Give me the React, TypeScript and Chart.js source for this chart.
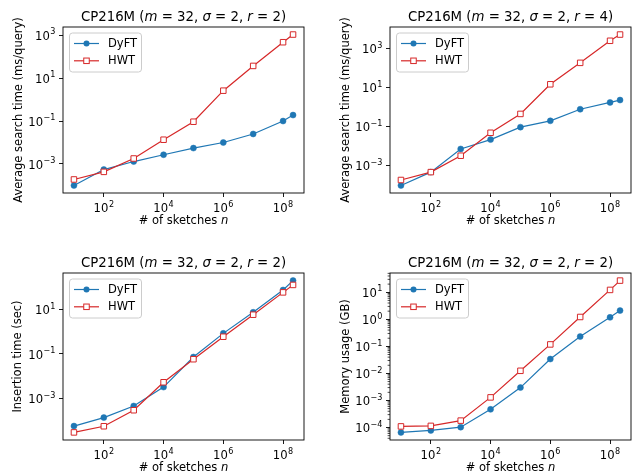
import React, { useEffect, useRef } from "react";
import { Chart, registerables } from "chart.js";

Chart.register(...registerables);

// ---------- data ----------
const sketchCounts = [10, 100, 1e3, 1e4, 1e5, 1e6, 1e7, 1e8, 2.16e8];
const xTickValues = [1e2, 1e4, 1e6, 1e8];

const searchR2DyFT = [1.0e-4, 5.5e-4, 1.3e-3, 2.7e-3, 5.5e-3, 1.0e-2, 2.5e-2, 0.1, 0.19];
const searchR2HWT = [1.9e-4, 4.3e-4, 1.8e-3, 1.35e-2, 9.3e-2, 2.6, 37, 470, 1070];
const searchR4DyFT = [1.0e-4, 4.8e-4, 7.3e-3, 2.2e-2, 9.5e-2, 0.2, 0.78, 1.74, 2.3];
const searchR4HWT = [1.9e-4, 4.8e-4, 3.3e-3, 4.9e-2, 0.45, 14.7, 183, 2450, 5100];
const insertDyFT = [5.6e-5, 1.35e-4, 4.5e-4, 3.2e-3, 0.073, 0.85, 7.6, 77, 204];
const insertHWT = [2.9e-5, 5.5e-5, 2.9e-4, 5.3e-3, 0.058, 0.6, 5.9, 60, 130];
const memoryDyFT = [6.6e-5, 7.8e-5, 1.03e-4, 4.7e-4, 3.0e-3, 0.034, 0.23, 1.18, 2.1];
const memoryHWT = [1.1e-4, 1.15e-4, 1.8e-4, 1.3e-3, 1.25e-2, 0.118, 1.22, 12.2, 27];

const searchTicks = [1e-3, 1e-1, 1e1, 1e3];
const insertTicks = [1e-3, 1e-1, 1e1];
const memoryTicks = [1e-4, 1e-3, 1e-2, 1e-1, 1, 10];

const seriesLabels = ["DyFT", "HWT"];

// ---------- style ----------
const FONT = '"DejaVu Sans", "Liberation Sans", sans-serif';
const BLUE = "#1f77b4";
const RED = "#d62728";
const TICK_SIZE = 11.6;
const SUP_SIZE = 8.1;
const SUP_RAISE = 5.4;
const LABEL_SIZE = 11.5;
const TITLE_SIZE = 13.3;

type Seg = { t: string; i?: boolean };

const titleFor = (r: string): Seg[] => [
  { t: "CP216M (" },
  { t: "m", i: true },
  { t: " = 32, " },
  { t: "σ", i: true },
  { t: " = 2, " },
  { t: "r", i: true },
  { t: " = " + r + ")" },
];

const xLabel: Seg[] = [{ t: "# of sketches " }, { t: "n", i: true }];

interface PanelSpec {
  title: Seg[];
  yLabel: string;
  dyft: number[];
  hwt: number[];
  yTicks: number[];
  minor: boolean;
  box: { x: number; y: number; w: number; h: number };
  area: { l: number; r: number; t: number; b: number };
  yLabelX: number;
}

const panels: PanelSpec[] = [
  {
    title: titleFor("2"),
    yLabel: "Average search time (ms/query)",
    dyft: searchR2DyFT,
    hwt: searchR2HWT,
    yTicks: searchTicks,
    minor: false,
    box: { x: 0, y: 0, w: 319, h: 237 },
    area: { l: 63, r: 304, t: 27, b: 193 },
    yLabelX: 19,
  },
  {
    title: titleFor("4"),
    yLabel: "Average search time (ms/query)",
    dyft: searchR4DyFT,
    hwt: searchR4HWT,
    yTicks: searchTicks,
    minor: false,
    box: { x: 319, y: 0, w: 320, h: 237 },
    area: { l: 71, r: 312, t: 27, b: 193 },
    yLabelX: 27.5,
  },
  {
    title: titleFor("2"),
    yLabel: "Insertion time (sec)",
    dyft: insertDyFT,
    hwt: insertHWT,
    yTicks: insertTicks,
    minor: false,
    box: { x: 0, y: 237, w: 319, h: 238 },
    area: { l: 63, r: 304, t: 36, b: 203 },
    yLabelX: 18.5,
  },
  {
    title: titleFor("2"),
    yLabel: "Memory usage (GB)",
    dyft: memoryDyFT,
    hwt: memoryHWT,
    yTicks: memoryTicks,
    minor: true,
    box: { x: 319, y: 237, w: 320, h: 238 },
    area: { l: 71, r: 312, t: 36, b: 203 },
    yLabelX: 26.7,
  },
];

// ---------- helpers ----------
function expText(v: number): string {
  const e = Math.round(Math.log10(v));
  return String(e).replace("-", "\u2212");
}

function logRange(values: number[]): [number, number] {
  const logs = values.map((v) => Math.log10(v));
  const mn = Math.min(...logs);
  const mx = Math.max(...logs);
  const pad = (mx - mn) * 0.05;
  return [Math.pow(10, mn - pad), Math.pow(10, mx + pad)];
}

function drawRich(ctx: CanvasRenderingContext2D, segs: Seg[], x: number, y: number, size: number) {
  ctx.save();
  const fontFor = (s: Seg) => `${s.i ? "italic " : ""}${size}px ${FONT}`;
  let total = 0;
  const widths = segs.map((s) => {
    ctx.font = fontFor(s);
    const w = ctx.measureText(s.t).width;
    total += w;
    return w;
  });
  let cx = x - total / 2;
  ctx.textBaseline = "alphabetic";
  ctx.textAlign = "left";
  ctx.fillStyle = "#000";
  segs.forEach((s, k) => {
    ctx.font = fontFor(s);
    ctx.fillText(s.t, cx, y);
    cx += widths[k];
  });
  ctx.restore();
}

// draws "10^e"; anchor: 'center' (x is center) or 'right' (x is right edge); y is baseline
function drawPow(ctx: CanvasRenderingContext2D, v: number, x: number, y: number, anchor: "center" | "right") {
  const base = "10";
  const ex = expText(v);
  ctx.save();
  ctx.fillStyle = "#000";
  ctx.textBaseline = "alphabetic";
  ctx.textAlign = "left";
  ctx.font = `${TICK_SIZE}px ${FONT}`;
  const wb = ctx.measureText(base).width;
  ctx.font = `${SUP_SIZE}px ${FONT}`;
  const we = ctx.measureText(ex).width;
  const total = wb + we + 0.5;
  const start = anchor === "center" ? x - total / 2 : x - total;
  ctx.font = `${TICK_SIZE}px ${FONT}`;
  ctx.fillText(base, start, y);
  ctx.font = `${SUP_SIZE}px ${FONT}`;
  ctx.fillText(ex, start + wb + 0.5, y - SUP_RAISE);
  ctx.restore();
}

function Panel({ spec }: { spec: PanelSpec }) {
  const ref = useRef<HTMLCanvasElement>(null);

  useEffect(() => {
    const canvas = ref.current;
    if (!canvas) return;
    const { area, box } = spec;
    const [xMin, xMax] = logRange(sketchCounts);
    const [yMin, yMax] = logRange([...spec.dyft, ...spec.hwt]);

    const minorTicks: number[] = [];
    if (spec.minor) {
      for (let k = -6; k <= 3; k++) {
        for (let m = 2; m <= 9; m++) {
          const v = m * Math.pow(10, k);
          if (v > yMin && v < yMax) minorTicks.push(v);
        }
      }
    }

    const decor = {
      id: "decor",
      afterDatasetsDraw(chart: any) {
        const ctx: CanvasRenderingContext2D = chart.ctx;
        const ca = chart.chartArea;
        const xs = chart.scales.x;
        const ys = chart.scales.y;
        // frame (spines)
        ctx.save();
        ctx.strokeStyle = "#000";
        ctx.lineWidth = 0.9;
        ctx.strokeRect(ca.left, ca.top, ca.right - ca.left, ca.bottom - ca.top);
        // minor ticks
        if (minorTicks.length) {
          ctx.beginPath();
          minorTicks.forEach((v) => {
            const py = ys.getPixelForValue(v);
            ctx.moveTo(ca.left - 2.4, py);
            ctx.lineTo(ca.left, py);
          });
          ctx.lineWidth = 0.7;
          ctx.stroke();
        }
        ctx.restore();

        // tick labels
        xTickValues.forEach((v) => {
          drawPow(ctx, v, xs.getPixelForValue(v), ca.bottom + 19, "center");
        });
        spec.yTicks.forEach((v) => {
          drawPow(ctx, v, ca.left - 7.5, ys.getPixelForValue(v) + 4.6, "right");
        });

        // title
        drawRich(ctx, spec.title, (ca.left + ca.right) / 2, ca.top - 6, TITLE_SIZE);
        // x label
        drawRich(ctx, xLabel, (ca.left + ca.right) / 2, ca.bottom + 31, LABEL_SIZE);
        // y label
        ctx.save();
        ctx.translate(spec.yLabelX, (ca.top + ca.bottom) / 2);
        ctx.rotate(-Math.PI / 2);
        ctx.font = `${LABEL_SIZE}px ${FONT}`;
        ctx.fillStyle = "#000";
        ctx.textAlign = "center";
        ctx.textBaseline = "middle";
        ctx.fillText(spec.yLabel, 0, 0);
        ctx.restore();

        // legend
        const lx = ca.left + 6;
        const ly = ca.top + 5.5;
        const lw = 72;
        const lh = 39;
        ctx.save();
        ctx.beginPath();
        (ctx as any).roundRect(lx + 0.5, ly + 0.5, lw, lh, 3);
        ctx.fillStyle = "rgba(255,255,255,0.8)";
        ctx.fill();
        ctx.strokeStyle = "#cccccc";
        ctx.lineWidth = 1;
        ctx.stroke();
        chart.data.datasets.forEach((ds: any, k: number) => {
          const ry = ly + 11 + k * 17.3;
          ctx.beginPath();
          ctx.moveTo(lx + 5, ry);
          ctx.lineTo(lx + 30, ry);
          ctx.strokeStyle = ds.borderColor;
          ctx.lineWidth = 1.2;
          ctx.stroke();
          const mx = lx + 17.5;
          if (ds.pointStyle === "rect") {
            const s = ds.pointRadius * Math.SQRT1_2;
            ctx.fillStyle = ds.pointBackgroundColor;
            ctx.fillRect(mx - s, ry - s, 2 * s, 2 * s);
            ctx.strokeStyle = ds.pointBorderColor;
            ctx.lineWidth = ds.pointBorderWidth;
            ctx.strokeRect(mx - s, ry - s, 2 * s, 2 * s);
          } else {
            ctx.beginPath();
            ctx.arc(mx, ry, ds.pointRadius, 0, Math.PI * 2);
            ctx.fillStyle = ds.pointBackgroundColor;
            ctx.fill();
          }
          ctx.font = `${LABEL_SIZE}px ${FONT}`;
          ctx.fillStyle = "#000";
          ctx.textAlign = "left";
          ctx.textBaseline = "middle";
          ctx.fillText(ds.label, lx + 39, ry + 0.5);
        });
        ctx.restore();
      },
    };

    const chart = new Chart(canvas, {
      type: "line",
      data: {
        datasets: [
          {
            label: seriesLabels[0],
            data: sketchCounts.map((n, i) => ({ x: n, y: spec.dyft[i] })),
            borderColor: BLUE,
            backgroundColor: BLUE,
            pointBackgroundColor: BLUE,
            pointBorderColor: BLUE,
            pointStyle: "circle",
            pointRadius: 3,
            pointBorderWidth: 0.5,
            borderWidth: 1.2,
            tension: 0,
            order: 1,
          },
          {
            label: seriesLabels[1],
            data: sketchCounts.map((n, i) => ({ x: n, y: spec.hwt[i] })),
            borderColor: RED,
            backgroundColor: "#ffffff",
            pointBackgroundColor: "#ffffff",
            pointBorderColor: RED,
            pointStyle: "rect",
            pointRadius: 3.9,
            pointBorderWidth: 1,
            borderWidth: 1.2,
            tension: 0,
            order: 0,
          },
        ] as any,
      },
      options: {
        animation: false,
        responsive: false,
        events: [],
        layout: { padding: { left: 0, top: area.t, right: box.w - area.r, bottom: 0 } },
        plugins: {
          legend: { display: false },
          tooltip: { enabled: false },
          title: { display: false },
        },
        scales: {
          x: {
            type: "logarithmic",
            min: xMin,
            max: xMax,
            bounds: "data",
            afterBuildTicks: (s: any) => {
              s.ticks = xTickValues.map((v) => ({ value: v }));
            },
            afterFit: (s: any) => {
              s.height = box.h - area.b;
            },
            ticks: { display: false },
            grid: { drawOnChartArea: false, drawTicks: true, tickLength: 4, color: "#000", lineWidth: 0.9 },
            border: { display: false },
          },
          y: {
            type: "logarithmic",
            min: yMin,
            max: yMax,
            bounds: "data",
            afterBuildTicks: (s: any) => {
              s.ticks = spec.yTicks.map((v) => ({ value: v }));
            },
            afterFit: (s: any) => {
              s.width = area.l;
            },
            ticks: { display: false },
            grid: { drawOnChartArea: false, drawTicks: true, tickLength: 4, color: "#000", lineWidth: 0.9 },
            border: { display: false },
          },
        },
      } as any,
      plugins: [decor],
    });
    return () => chart.destroy();
  }, [spec]);

  return (
    <canvas
      ref={ref}
      width={spec.box.w}
      height={spec.box.h}
      style={{ position: "absolute", left: spec.box.x, top: spec.box.y, width: spec.box.w, height: spec.box.h }}
    />
  );
}

export default function App() {
  return (
    <div style={{ position: "fixed", left: 0, top: 0, width: 639, height: 475, background: "#fff", overflow: "hidden" }}>
      {panels.map((p, i) => (
        <Panel key={i} spec={p} />
      ))}
    </div>
  );
}
